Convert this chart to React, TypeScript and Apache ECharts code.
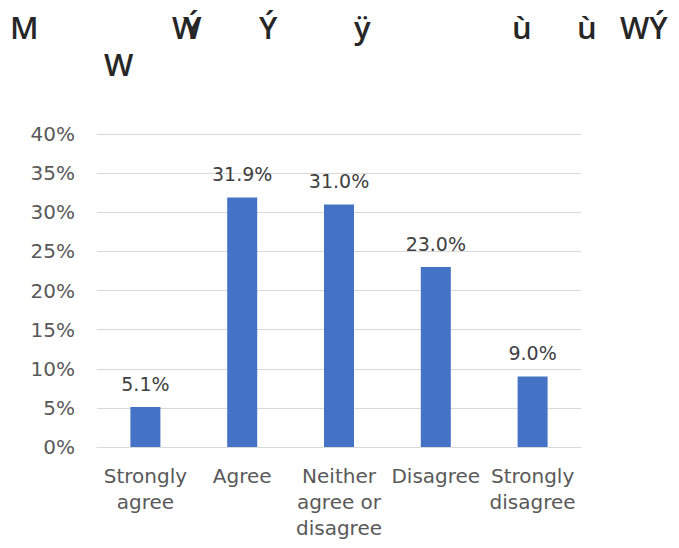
import React, { useEffect, useRef } from "react";
import * as echarts from "echarts";

const categories = ["Strongly agree", "Agree", "Neither agree or disagree", "Disagree", "Strongly disagree"];
const categoryLabels = ["Strongly\nagree", "Agree", "Neither\nagree or\ndisagree", "Disagree", "Strongly\ndisagree"];
const values = [5.1, 31.9, 31.0, 23.0, 9.0];
const yTicks = [0, 5, 10, 15, 20, 25, 30, 35, 40];

const titleGlyphs = ["M", "W", "Ý", "Ý", "ÿ", "ù", "ù", "WÝ", "W"];
const titleLayout = [
  { x: 10, y: 27 },
  { x: 172, y: 27 },
  { x: 183, y: 27 },
  { x: 259, y: 27 },
  { x: 354, y: 27 },
  { x: 512, y: 27 },
  { x: 577, y: 27 },
  { x: 620, y: 27 },
  { x: 104, y: 64 },
];

export default function App() {
  const ref = useRef<HTMLDivElement>(null);
  useEffect(() => {
    if (!ref.current) return;
    const chart = echarts.init(ref.current, null, { renderer: "svg" });
    const font = "'DejaVu Sans', sans-serif";
    chart.setOption({
      animation: false,
      backgroundColor: "#ffffff",
      graphic: titleGlyphs.map((g, i) => ({
        type: "text",
        x: titleLayout[i].x,
        y: titleLayout[i].y,
        style: {
          text: g,
          fontFamily: "'Open Sans', 'DejaVu Sans', sans-serif",
          fontSize: 31,
          fontWeight: 600,
          fill: "#262626",
          verticalAlign: "middle",
        },
      })),
      grid: { left: 97, right: 98, top: 134, bottom: 101, containLabel: false },
      xAxis: {
        type: "category",
        data: categories,
        axisLine: { lineStyle: { color: "#d9d9d9" } },
        axisTick: { show: false },
        axisLabel: {
          interval: 0,
          color: "#595959",
          fontFamily: font,
          fontSize: 20,
          lineHeight: 26,
          margin: 16,
          formatter: (_v: string, i: number) => categoryLabels[i],
        },
      },
      yAxis: {
        type: "value",
        min: yTicks[0],
        max: yTicks[yTicks.length - 1],
        interval: 5,
        axisLine: { show: false },
        axisTick: { show: false },
        splitLine: { lineStyle: { color: "#d9d9d9", width: 1 } },
        axisLabel: {
          color: "#595959",
          fontFamily: font,
          fontSize: 20,
          margin: 22,
          formatter: "{value}%",
        },
      },
      series: [
        {
          type: "bar",
          data: values,
          barWidth: 30,
          itemStyle: { color: "#4472C4" },
          label: {
            show: true,
            position: "top",
            distance: 14,
            color: "#404040",
            fontFamily: font,
            fontSize: 19,
            formatter: (p: any) => p.value.toFixed(1) + "%",
          },
        },
      ],
    });
    return () => chart.dispose();
  }, []);
  return <div ref={ref} style={{ position: "fixed", left: 0, top: 0, width: 679, height: 548 }} />;
}
